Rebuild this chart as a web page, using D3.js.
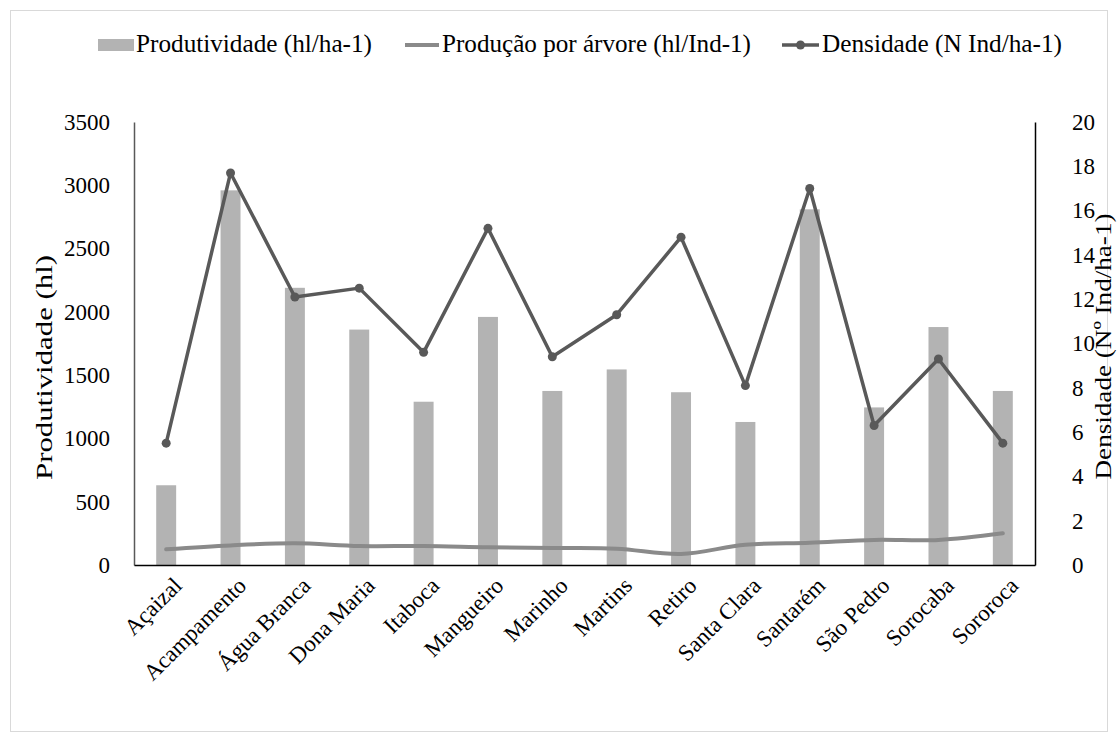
<!DOCTYPE html>
<html>
<head>
<meta charset="utf-8">
<script src="https://cdn.jsdelivr.net/npm/d3@7"></script>
<style>
  html, body { margin: 0; padding: 0; background: #fff; }
  svg { display: block; font-family: "Liberation Serif", "Times New Roman", serif; }
</style>
</head>
<body>
<svg id="chart" width="1118" height="742"></svg>
<script>
// Localidades
const categories = ["Açaizal", "Acampamento", "Água Branca", "Dona Maria", "Itaboca", "Mangueiro",
  "Marinho", "Martins", "Retiro", "Santa Clara", "Santarém", "São Pedro", "Sorocaba", "Sororoca"];

// Produtividade (hl/ha-1) - barras, eixo esquerdo
const produtividade = [630, 2960, 2190, 1860, 1290, 1960, 1375, 1545, 1365, 1130, 2810, 1245, 1880, 1375];

// Produção por árvore (hl/Ind-1) - linha, eixo esquerdo
const producaoArvore = [124, 155, 171, 150, 150, 140, 134, 129, 87, 160, 176, 198, 198, 250];

// Densidade (Nº Ind/ha-1) - linha com marcadores, eixo direito
const densidade = [5.5, 17.7, 12.1, 12.5, 9.6, 15.2, 9.4, 11.3, 14.8, 8.1, 17.0, 6.3, 9.3, 5.5];

const leftTicks = [0, 500, 1000, 1500, 2000, 2500, 3000, 3500];
const rightTicks = [0, 2, 4, 6, 8, 10, 12, 14, 16, 18, 20];

const seriesNames = ["Produtividade (hl/ha-1)", "Produção por árvore (hl/Ind-1)", "Densidade (N Ind/ha-1)"];
const leftTitle = "Produtividade (hl)";
const rightTitle = "Densidade (Nº Ind/ha-1)";

const barColor = "#b3b3b3";
const prodColor = "#8a8a8a";
const densColor = "#595959";

const svg = d3.select("#chart");

// moldura do gráfico
svg.append("rect")
  .attr("x", 10.5).attr("y", 10.5)
  .attr("width", 1097).attr("height", 721)
  .attr("fill", "#fff").attr("stroke", "#d9d9d9").attr("stroke-width", 1);

const plot = { left: 134, right: 1035, top: 122, bottom: 565 };

const x = d3.scaleBand().domain(categories).range([plot.left, plot.right]).padding(0);
const yL = d3.scaleLinear().domain([0, 3500]).range([plot.bottom, plot.top]);
const yR = d3.scaleLinear().domain([0, 20]).range([plot.bottom, plot.top]);

const barW = x.bandwidth() * 0.31;
const cx = d => x(d) + x.bandwidth() / 2;

// barras
svg.append("g").selectAll("rect")
  .data(categories)
  .join("rect")
  .attr("x", (d) => cx(d) - barW / 2)
  .attr("width", barW)
  .attr("y", (d, i) => yL(produtividade[i]))
  .attr("height", (d, i) => yL(0) - yL(produtividade[i]))
  .attr("fill", barColor);

// eixo esquerdo
const gL = svg.append("g")
  .attr("transform", `translate(${plot.left},0)`)
  .call(d3.axisLeft(yL).tickValues(leftTicks).tickSize(0).tickPadding(24).tickFormat(d3.format("d")));
gL.select(".domain").attr("stroke", "#595959").attr("stroke-width", 1.5);
gL.selectAll("text").attr("font-size", 23).attr("font-family", "Liberation Serif").attr("fill", "#000");

// eixo direito
const gR = svg.append("g")
  .attr("transform", `translate(${plot.right},0)`)
  .call(d3.axisRight(yR).tickValues(rightTicks).tickSize(0).tickPadding(37).tickFormat(d3.format("d")));
gR.select(".domain").attr("stroke", "#000").attr("stroke-width", 1.5);
gR.selectAll("text").attr("font-size", 23).attr("font-family", "Liberation Serif").attr("fill", "#000");

// eixo inferior
const gB = svg.append("g")
  .attr("transform", `translate(0,${plot.bottom})`)
  .call(d3.axisBottom(x).tickSize(0).tickPadding(0));
gB.select(".domain").attr("stroke", "#000").attr("stroke-width", 1.5);
gB.selectAll("text")
  .attr("font-size", 23).attr("font-family", "Liberation Serif").attr("fill", "#000")
  .attr("text-anchor", "end")
  .attr("dy", null)
  .attr("y", 0)
  .attr("transform", "translate(17,22) rotate(-45)");

// linha: produção por árvore (suavizada)
svg.append("path")
  .datum(producaoArvore)
  .attr("fill", "none")
  .attr("stroke", prodColor)
  .attr("stroke-width", 4)
  .attr("stroke-linecap", "round")
  .attr("d", d3.line().x((d, i) => cx(categories[i])).y(d => yL(d)).curve(d3.curveCatmullRom.alpha(0.5)));

// linha: densidade
svg.append("path")
  .datum(densidade)
  .attr("fill", "none")
  .attr("stroke", densColor)
  .attr("stroke-width", 3.5)
  .attr("stroke-linejoin", "round")
  .attr("d", d3.line().x((d, i) => cx(categories[i])).y(d => yR(d)));

svg.append("g").selectAll("circle")
  .data(densidade)
  .join("circle")
  .attr("cx", (d, i) => cx(categories[i]))
  .attr("cy", d => yR(d))
  .attr("r", 4.5)
  .attr("fill", densColor);

// títulos dos eixos
svg.append("text")
  .attr("transform", `translate(52,${(plot.top + plot.bottom) / 2 + 24}) rotate(-90)`)
  .attr("text-anchor", "middle")
  .attr("font-size", 24)
  .attr("textLength", 225).attr("lengthAdjust", "spacingAndGlyphs")
  .text(leftTitle);

svg.append("text")
  .attr("transform", `translate(1111,${(plot.top + plot.bottom) / 2 + 3}) rotate(-90)`)
  .attr("text-anchor", "middle")
  .attr("font-size", 24)
  .attr("textLength", 266).attr("lengthAdjust", "spacingAndGlyphs")
  .text(rightTitle);

// legenda
const legend = svg.append("g").attr("font-size", 25);
const legY = 45;
legend.append("rect").attr("x", 98).attr("y", legY - 6).attr("width", 36).attr("height", 12).attr("fill", barColor);
legend.append("text").attr("x", 136).attr("y", legY + 7).attr("textLength", 236).attr("lengthAdjust", "spacingAndGlyphs").text(seriesNames[0]);

legend.append("line").attr("x1", 405).attr("x2", 439).attr("y1", legY).attr("y2", legY)
  .attr("stroke", prodColor).attr("stroke-width", 4);
legend.append("text").attr("x", 442).attr("y", legY + 7).attr("textLength", 309).attr("lengthAdjust", "spacingAndGlyphs").text(seriesNames[1]);

legend.append("line").attr("x1", 782).attr("x2", 819).attr("y1", legY).attr("y2", legY)
  .attr("stroke", densColor).attr("stroke-width", 3.5);
legend.append("circle").attr("cx", 800.5).attr("cy", legY).attr("r", 4.5).attr("fill", densColor);
legend.append("text").attr("x", 822).attr("y", legY + 7).attr("textLength", 240).attr("lengthAdjust", "spacingAndGlyphs").text(seriesNames[2]);
</script>
</body>
</html>
